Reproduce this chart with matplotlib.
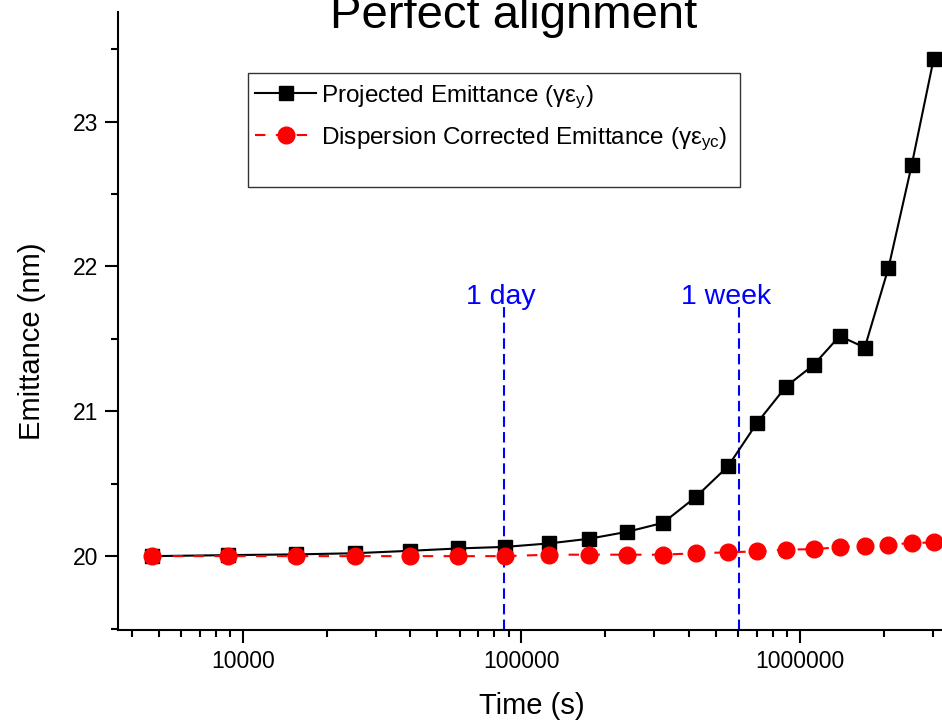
import matplotlib
matplotlib.use("Agg")
import matplotlib.pyplot as plt
from matplotlib.patches import Rectangle
from matplotlib.ticker import MultipleLocator, FixedLocator, NullFormatter

plt.rcParams['font.family'] = ['Liberation Sans', 'DejaVu Sans']
plt.rcParams['mathtext.fontset'] = 'custom'
plt.rcParams['mathtext.rm'] = 'Liberation Sans'
plt.rcParams['mathtext.it'] = 'Liberation Sans'

# data
time_s = [4720, 8840, 15500, 25200, 40000, 59400, 87700, 126000, 175000,
          240000, 323000, 424000, 552000, 702000, 891000, 1120000, 1390000,
          1710000, 2080000, 2520000, 3020000]
projected = [20.00, 20.007, 20.012, 20.02, 20.037, 20.053, 20.064, 20.088,
             20.12, 20.168, 20.23, 20.41, 20.62, 20.92, 21.17, 21.32, 21.52,
             21.44, 21.99, 22.70, 23.43]
corrected = [20.00, 20.00, 20.00, 20.00, 20.00, 20.00, 20.00, 20.01, 20.01,
             20.01, 20.01, 20.02, 20.026, 20.033, 20.045, 20.048, 20.062,
             20.068, 20.08, 20.09, 20.095]
markers_t = [86400, 604800]
markers_label = ["1 day", "1 week"]
y_ticks = [20, 21, 22, 23]


def main():
    W, H = 942, 721
    fig = plt.figure(figsize=(W / 100, H / 100), dpi=100)
    left, right, top, bottom = 118, 967, 12, 630
    ax = fig.add_axes([left / W, 1 - bottom / H, (right - left) / W, (bottom - top) / H])

    ax.plot(time_s, projected, '-', color='k', lw=1.5, marker='s', markersize=9.8,
            label=r'Projected Emittance (γε$_{y}$)', zorder=3, clip_on=False)
    ax.plot(time_s, corrected, '--', color='#ff0000', lw=1.5, dashes=(5, 5), marker='o',
            markersize=12, label=r'Dispersion Corrected Emittance (γε$_{yc}$)',
            zorder=4, clip_on=False)

    ax.set_xscale('log')
    ax.set_xlim(3565, 10 ** 6.6)
    ax.set_ylim(19.49, 23.757)

    for t, txt, dx in zip(markers_t, markers_label, [-3, -13]):
        ax.vlines(t, 19.49, 21.73, colors='#0000ff', linestyles=(0, (5, 2.5)), lw=1.5, zorder=2)
        ax.annotate(txt, xy=(t, 21.74), xytext=(dx * 0.72, 0), textcoords='offset points',
                    ha='center', va='baseline', color='#0000ff', fontsize=20.5)

    ax.spines['top'].set_visible(False)
    ax.spines['right'].set_visible(False)
    ax.spines['left'].set_linewidth(1.5)
    ax.spines['bottom'].set_linewidth(1.5)

    ax.yaxis.set_major_locator(FixedLocator(y_ticks))
    ax.yaxis.set_minor_locator(MultipleLocator(0.5))
    ax.xaxis.set_minor_formatter(NullFormatter())
    ax.set_xticks([10000, 100000, 1000000])
    ax.set_xticklabels(['10000', '100000', '1000000'])
    ax.tick_params(which='major', direction='out', length=9.5, width=1.5, labelsize=16.5, pad=5)
    ax.tick_params(which='minor', direction='out', length=5, width=1.5)

    ax.set_xlabel('Time (s)', fontsize=21)
    ax.set_ylabel('Emittance (nm)', fontsize=21)
    ax.xaxis.set_label_coords((532 - left) / (right - left), (bottom - 692) / (bottom - top))
    ax.yaxis.set_label_coords((46 - left) / (right - left), (bottom - 341) / (bottom - top))

    fig.text(514 / W, 1 - 28 / H, 'Perfect alignment', ha='center', va='baseline', fontsize=34)

    # legend box drawn separately so it can keep the empty space below the entries
    ax.add_patch(Rectangle((248 / W, 1 - 187 / H), (740 - 248) / W, (187 - 73) / H,
                           transform=fig.transFigure, facecolor='white',
                           edgecolor='#333333', lw=1.0, zorder=5, clip_on=False))
    leg = ax.legend(loc='upper left', bbox_to_anchor=(248 / W, 1 - 76 / H),
                    bbox_transform=fig.transFigure, borderaxespad=0, fontsize=17.5,
                    handlelength=2.5, handletextpad=0.22, labelspacing=0.6,
                    borderpad=0.3, frameon=False)
    leg.set_zorder(6)

    fig.savefig('out.png', dpi=100)


if __name__ == '__main__':
    main()
